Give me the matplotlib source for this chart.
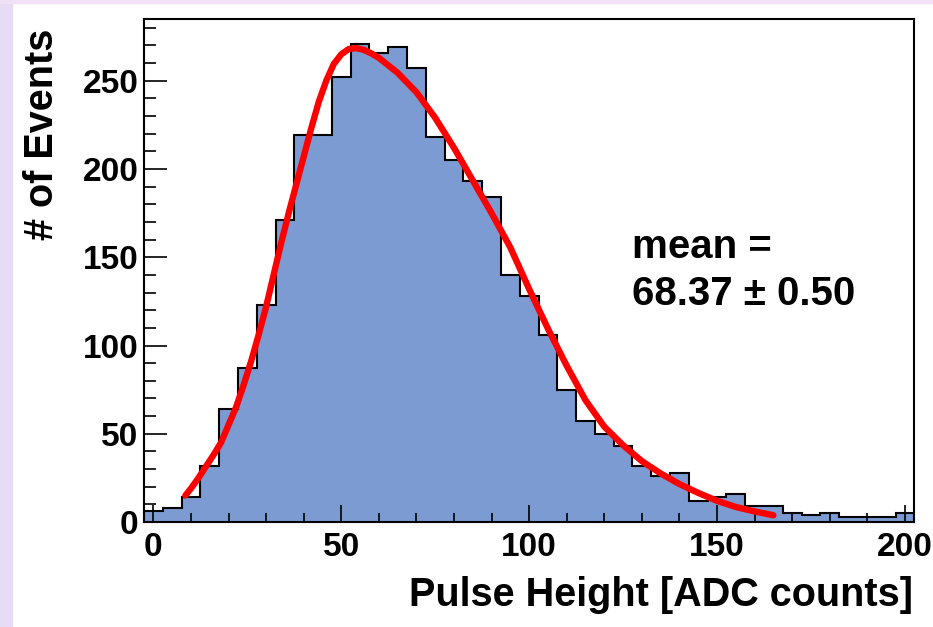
import matplotlib
matplotlib.use("Agg")
from matplotlib import pyplot as plt
import numpy as np

# histogram: bins of width 5 from -2.5 to 202.5
bin_centers = list(range(0, 205, 5))
counts = [6, 8, 14, 32, 64, 87, 123, 171, 219, 219,
          252, 271, 266, 269, 257, 218, 205, 193, 184, 140,
          128, 106, 75, 57, 50, 43, 32, 26, 28, 12,
          14, 16, 9, 9, 5, 4, 5, 3, 3, 3, 5]

# fit curve
fit_x = [8.5, 10, 12, 14, 16, 18, 20, 22, 24, 26, 28, 30, 32, 34, 36, 38, 40, 42, 44,
         46, 48, 50, 52, 54, 56, 58, 60, 65, 70, 75, 80, 85, 90, 95, 100, 105, 110,
         115, 120, 125, 130, 135, 140, 145, 150, 155, 160, 165]
fit_y = [15, 19, 25, 31.5, 38, 45, 55, 65, 77.5, 91, 106, 122, 140, 158, 175, 191, 207, 223, 238,
         250, 259.5, 265, 268, 268.5, 267.5, 265.5, 263, 254.5, 243.5, 229, 212, 193.5, 175, 155.5, 132, 109.5, 88.5,
         69, 54, 43.5, 34.5, 27.5, 21.5, 16.5, 12, 8.5, 6, 3.8]

mean_label = "mean ="
mean_value = "68.37 \u00b1 0.50"

plt.rcParams['font.family'] = ['Liberation Sans', 'DejaVu Sans']
plt.rcParams['font.weight'] = 'bold'

W, H = 933, 627
fig = plt.figure(figsize=(W / 100, H / 100), dpi=100)
fig.patch.set_facecolor('white')
# lavender frame strips
fig.patches.append(plt.Rectangle((0, 0), 12 / W, 1, transform=fig.transFigure,
                                 color='#e8dbf6', zorder=0))
fig.patches.append(plt.Rectangle((0, 1 - 3 / H), 1, 3 / H, transform=fig.transFigure,
                                 color='#f2e1f6', zorder=0))

ax = fig.add_axes([144 / W, 105 / H, (914.3 - 144) / W, (522 - 19) / H])

edges = np.array(bin_centers, dtype=float) - 2.5
edges = np.append(edges, bin_centers[-1] + 2.5)
ax.stairs(counts, edges, fill=True, color='#7b9bd2', zorder=1)
ax.stairs(counts, edges, fill=False, color='black', linewidth=1.5, zorder=2)

ax.plot(fit_x, fit_y, color='#ff0000', linewidth=4.6, solid_capstyle='round',
        solid_joinstyle='round', zorder=3)

ax.set_xlim(-2.5, 202.5)
ax.set_ylim(0, 285)
ax.set_xticks([0, 50, 100, 150, 200])
ax.set_xticks(np.arange(0, 201, 10), minor=True)
ax.set_yticks([0, 50, 100, 150, 200, 250])
ax.set_yticks(np.arange(0, 281, 10), minor=True)
ax.tick_params(axis='both', which='both', direction='in', labelsize=24, width=1.2)
ax.tick_params(axis='x', which='major', length=12.5, pad=7)
ax.tick_params(axis='x', which='minor', length=6.5)
ax.tick_params(axis='y', which='major', length=16.5, pad=4)
ax.tick_params(axis='y', which='minor', length=8.5)
for lab in ax.get_xticklabels() + ax.get_yticklabels():
    lab.set_fontweight('bold')
for s in ax.spines.values():
    s.set_linewidth(1.5)

fig.text(913 / W, 1 - 595 / H, "Pulse Height [ADC counts]", ha='right', va='center',
         fontsize=28.5, fontweight='bold')
fig.text(42 / W, 1 - 134 / H, "# of Events", ha='center', va='center', rotation=90,
         fontsize=28.5, fontweight='bold')
fig.text(632 / W, 1 - 258 / H, mean_label, ha='left', va='baseline',
         fontsize=29, fontweight='bold')
fig.text(632 / W, 1 - 305 / H, mean_value, ha='left', va='baseline',
         fontsize=29, fontweight='bold')

fig.savefig("out.png", dpi=100)
